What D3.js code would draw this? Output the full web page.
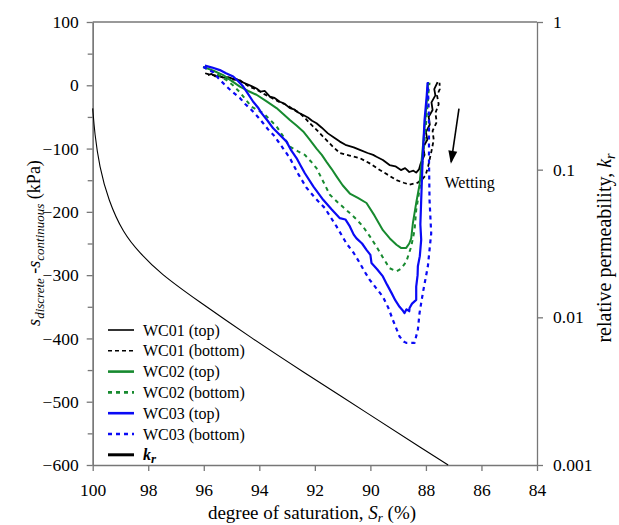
<!DOCTYPE html>
<html>
<head>
<meta charset="utf-8">
<script src="https://cdn.jsdelivr.net/npm/d3@7"></script>
<style>
  html, body { margin: 0; padding: 0; background: #fff; }
  svg { display: block; }
  text { font-family: "Liberation Serif", "Times New Roman", Times, serif; fill: #000; }
</style>
</head>
<body>
<svg id="chart" width="619" height="525"></svg>
<script>
// Degree of saturation Sr (%) vs suction difference (kPa), one array per sensor
const wc01Top = [
  [95.85,16],[95.72,18],[95.58,14],[95.45,15],[95.3,12],[95.12,13],[94.95,10],[94.82,10],
  [94.62,5],[94.45,2],[94.3,-1],[94.1,-5],[93.95,-10],[93.8,-9],[93.62,-18],[93.45,-20],
  [93.26,-26],[93.1,-29],[92.9,-36],[92.75,-38],[92.6,-43],[92.42,-47],[92.25,-51],[92.1,-56],
  [91.94,-60],[91.75,-67],[91.53,-76],[91.3,-83],[91.1,-89],[90.9,-94],[90.6,-98],[90.38,-102],
  [90.1,-107],[89.9,-110],[89.78,-113],[89.55,-118],[89.31,-126],[89.1,-128],[88.9,-134],
  [88.75,-131],[88.6,-137],[88.45,-135],[88.35,-138],[88.25,-133],[88.2,-125],[88.15,-120],
  [88.05,-110],[88.1,-98],[87.95,-86],[88.0,-74],[87.86,-62],[87.9,-50],[87.76,-39],
  [87.8,-27],[87.66,-16],[87.7,-6],[87.58,5]
];
const wc01Bottom = [
  [95.95,19],[95.8,17],[95.62,16],[95.42,14],[95.2,11],[94.95,9],[94.7,8],[94.4,-1],
  [94.1,-7],[93.82,-14],[93.55,-20],[93.3,-26],[93.02,-31],[92.78,-38],[92.54,-44],
  [92.35,-52],[92.18,-60],[91.9,-72],[91.64,-84],[91.35,-97],[91.1,-107],[90.75,-111],
  [90.38,-115],[90.0,-124],[89.66,-134],[89.35,-142],[89.06,-150],[88.8,-154],[88.59,-157],
  [88.42,-155],[88.3,-154],[88.12,-148],[88.01,-142],[87.92,-128],[87.87,-118],[87.8,-104],
  [87.72,-86],[87.76,-72],[87.61,-58],[87.66,-44],[87.54,-30],[87.6,-16],[87.5,-6],[87.51,4]
];
const wc02Top = [
  [96.02,29],[95.65,23],[95.3,16],[95.0,7],[94.7,-2],[94.4,-9],[94.1,-15],[93.75,-25],
  [93.38,-36],[93.15,-45],[92.9,-55],[92.65,-64],[92.42,-73],[92.2,-85],[91.94,-100],
  [91.75,-110],[91.58,-121],[91.4,-132],[91.22,-144],[91.0,-158],[90.74,-171],[90.45,-178],
  [90.14,-186],[89.85,-206],[89.55,-229],[89.3,-242],[89.06,-252],[88.9,-257],[88.71,-257],
  [88.6,-250],[88.53,-242],[88.47,-218],[88.41,-202],[88.35,-186],[88.23,-157],[88.12,-102],
  [88.01,-47],[87.96,-20],[87.93,-2],[87.92,5]
];
const wc02Bottom = [
  [96.02,29],[95.8,24],[95.6,21],[95.4,14],[95.18,8],[94.95,0],[94.7,-11],[94.5,-22],
  [94.28,-34],[93.86,-44],[93.6,-55],[93.38,-65],[93.15,-80],[92.9,-97],[92.62,-104],
  [92.36,-110],[92.15,-120],[91.94,-131],[91.7,-152],[91.46,-173],[91.1,-188],[90.74,-202],
  [90.5,-212],[90.27,-223],[90.0,-240],[89.78,-255],[89.55,-272],[89.31,-289],[89.06,-294],
  [88.9,-290],[88.71,-279],[88.53,-255],[88.41,-229],[88.35,-197],[88.23,-165],[88.08,-102],
  [87.97,-47],[87.9,-8],[87.87,4]
];
const wc03Top = [
  [95.96,31],[95.7,28],[95.42,24],[95.2,19],[94.94,14],[94.75,6],[94.58,-2],[94.4,-14],
  [94.22,-26],[94.05,-35],[93.92,-44],[93.7,-56],[93.5,-68],[93.25,-79],[93.02,-89],
  [92.85,-103],[92.66,-115],[92.5,-128],[92.36,-139],[92.05,-160],[91.7,-181],[91.4,-196],
  [91.1,-210],[90.9,-212],[90.74,-223],[90.6,-236],[90.5,-242],[90.3,-250],[90.14,-260],
  [90.0,-268],[89.96,-281],[89.75,-291],[89.55,-302],[89.4,-315],[89.24,-328],[89.1,-340],
  [88.95,-350],[88.85,-355],[88.77,-360],[88.7,-354],[88.6,-357],[88.59,-352],[88.5,-345],
  [88.35,-339],[88.35,-318],[88.3,-300],[88.29,-286],[88.22,-270],[88.17,-244],[88.2,-220],
  [88.17,-181],[88.12,-118],[88.05,-55],[87.97,-16],[87.94,4]
];
const wc03Bottom = [
  [96.02,29],[95.85,25],[95.67,21],[95.45,10],[95.18,-2],[94.95,-11],[94.7,-20],[94.5,-30],
  [94.28,-39],[94.05,-50],[93.86,-60],[93.68,-70],[93.5,-78],[93.3,-90],[93.14,-100],
  [92.9,-115],[92.6,-140],[92.3,-162],[91.95,-180],[91.64,-194],[91.22,-223],[90.86,-250],
  [90.6,-265],[90.38,-281],[90.2,-295],[90.03,-307],[89.8,-320],[89.55,-334],[89.35,-352],
  [89.19,-371],[89.05,-386],[88.95,-397],[88.8,-405],[88.71,-407],[88.41,-407],[88.29,-386],
  [88.23,-360],[88.11,-328],[87.93,-286],[87.81,-234],[87.87,-181],[87.89,-118],[87.89,-50],
  [87.92,-16],[87.93,5]
];
// Relative permeability kr vs degree of saturation (right axis)
const krCurve = [
  [100,0.26],[99.93,0.176],[99.76,0.105],[99.44,0.0623],[98.9,0.0371],[98.3,0.0272],
  [97.58,0.0199],[96.26,0.0131],[94.23,0.00714],[92.54,0.00441],
  [90,0.00218],[88.05,0.00126],[87.2,0.001]
];

// Axis ticks
const xTicks = [100,98,96,94,92,90,88,86,84];
const yTicks = [100,0,-100,-200,-300,-400,-500,-600];
const yMinorTicks = [50,-50,-150,-250,-350,-450,-550];
const krTicks = [1,0.1,0.01,0.001];
const krTickLabels = ["1","0.1","0.01","0.001"];

const series = [
  { name: "WC01 (top)",    data: wc01Top,    color: "#000000", width: 1.8, dash: null,  legendWidth: 1.6 },
  { name: "WC01 (bottom)", data: wc01Bottom, color: "#000000", width: 1.8, dash: "4,3", legendWidth: 1.6 },
  { name: "WC02 (top)",    data: wc02Top,    color: "#178a2f", width: 2,   dash: null,  legendWidth: 2.6 },
  { name: "WC02 (bottom)", data: wc02Bottom, color: "#178a2f", width: 2,   dash: "4,4", legendWidth: 2.6 },
  { name: "WC03 (top)",    data: wc03Top,    color: "#0a0af5", width: 2.2, dash: null,  legendWidth: 2.6 },
  { name: "WC03 (bottom)", data: wc03Bottom, color: "#0a0af5", width: 2.2, dash: "4,4", legendWidth: 2.6 }
];

const svg = d3.select("#chart");
const plotLeft = 92.7, plotRight = 537, plotTop = 22, plotBottom = 465;
const axisColor = "#777";
const tickFont = 17.5;
const serifFont = '"Liberation Serif", "Times New Roman", Times, serif';

const x = d3.scaleLinear().domain([100, 84]).range([plotLeft, plotRight]);
const y = d3.scaleLinear().domain([-600, 100]).range([plotBottom, plotTop]);
const yKr = d3.scaleLog().domain([0.001, 1]).range([plotBottom, plotTop]);

function styleAxis(g) {
  g.attr("font-family", serifFont);
  g.select(".domain").attr("stroke", axisColor).attr("stroke-width", 1.3);
  g.selectAll(".tick line").attr("stroke", axisColor).attr("stroke-width", 1.3);
  g.selectAll(".tick text").attr("font-size", tickFont).attr("fill", "#000")
    .style("font-family", serifFont);
}

// top frame
svg.append("line").attr("x1", plotLeft).attr("x2", plotRight).attr("y1", plotTop).attr("y2", plotTop)
  .attr("stroke", axisColor).attr("stroke-width", 1.3);

// left axis with minor ticks
svg.append("g").attr("transform", `translate(${plotLeft},0)`)
  .call(d3.axisLeft(y).tickValues(yMinorTicks).tickSize(5).tickSizeOuter(0).tickFormat(""))
  .call(styleAxis);
svg.append("g").attr("transform", `translate(${plotLeft},0)`)
  .call(d3.axisLeft(y).tickValues(yTicks).tickSize(6).tickSizeOuter(0).tickPadding(8).tickFormat(d3.format("d")))
  .call(styleAxis);

// bottom axis
const gx = svg.append("g").attr("transform", `translate(0,${plotBottom})`)
  .call(d3.axisBottom(x).tickValues(xTicks).tickSize(6).tickSizeOuter(0).tickFormat(d3.format("d")))
  .call(styleAxis);
gx.selectAll(".tick text").attr("y", 31).attr("dy", 0);

// right axis (relative permeability, log)
svg.append("g").attr("transform", `translate(${plotRight},0)`)
  .call(d3.axisRight(yKr).tickValues(krTicks).tickSize(6).tickSizeOuter(0).tickPadding(10)
    .tickFormat((d, i) => krTickLabels[i]))
  .call(styleAxis);

// data curves
const line = d3.line().x(d => x(d[0])).y(d => y(d[1]));
const plot = svg.append("g");
series.forEach(s => {
  plot.append("path").datum(s.data).attr("d", line)
    .attr("fill", "none").attr("stroke", s.color).attr("stroke-width", s.width)
    .attr("stroke-linejoin", "round")
    .attr("stroke-dasharray", s.dash);
});

// kr curve on the log axis
const krLine = d3.line().x(d => x(d[0])).y(d => yKr(d[1])).curve(d3.curveBasis);
plot.append("path").datum(krCurve).attr("d", krLine)
  .attr("fill", "none").attr("stroke", "#000").attr("stroke-width", 1.1);

// wetting arrow
const a0 = [x(86.81), y(-37)], a1 = [x(87.09), y(-121)];
svg.append("line").attr("x1", a0[0]).attr("y1", a0[1]).attr("x2", a1[0]).attr("y2", a1[1])
  .attr("stroke", "#000").attr("stroke-width", 1.6);
{
  const dx = a1[0] - a0[0], dy = a1[1] - a0[1], L = Math.hypot(dx, dy);
  const ux = dx / L, uy = dy / L, px = -uy, py = ux;
  const hl = 11, hw = 4.5;
  const bx = a1[0] - ux * hl, by = a1[1] - uy * hl;
  svg.append("path")
    .attr("d", `M${a1[0]+ux*2},${a1[1]+uy*2}L${bx+px*hw},${by+py*hw}L${bx-px*hw},${by-py*hw}Z`)
    .attr("fill", "#000");
}
svg.append("text").attr("x", x(87.33)).attr("y", y(-162)).attr("font-size", 16).text("Wetting");

// legend
const legendRows = series.map(s => ({ label: s.name, color: s.color, width: s.legendWidth, dash: s.dash }));
legendRows.push({ label: null, color: "#000", width: 3, dash: null });
const lg = svg.append("g");
legendRows.forEach((r, i) => {
  const ry = 330 + i * 20.8;
  lg.append("line").attr("x1", 108).attr("x2", 134).attr("y1", ry).attr("y2", ry)
    .attr("stroke", r.color).attr("stroke-width", r.width).attr("stroke-dasharray", r.dash);
  const t = lg.append("text").attr("x", 143).attr("y", ry).attr("dy", "0.35em").attr("font-size", 16);
  if (r.label) {
    t.text(r.label);
  } else {
    t.append("tspan").attr("font-style", "italic").attr("font-weight", "bold").text("k");
    t.append("tspan").attr("font-style", "italic").attr("font-weight", "bold")
      .attr("font-size", 13).attr("dy", 3).text("r");
  }
});

// y label (left)
const yl = svg.append("text").attr("transform", "translate(40,243) rotate(-90)")
  .attr("text-anchor", "middle").attr("font-size", 18);
yl.append("tspan").attr("font-style", "italic").text("s");
yl.append("tspan").attr("font-style", "italic").attr("font-size", 13).attr("dy", 4).text("discrete");
yl.append("tspan").attr("dy", -4).text(" -");
yl.append("tspan").attr("font-style", "italic").text("s");
yl.append("tspan").attr("font-style", "italic").attr("font-size", 13).attr("dy", 4).text("continuous");
yl.append("tspan").attr("dy", -4).text(" (kPa)");

// right label
const rl = svg.append("text").attr("transform", "translate(611,248) rotate(-90)")
  .attr("text-anchor", "middle").attr("font-size", 20);
rl.append("tspan").text("relative permeability, ");
rl.append("tspan").attr("font-style", "italic").text("k");
rl.append("tspan").attr("font-style", "italic").attr("font-size", 14).attr("dy", 4).text("r");

// x label
const xl = svg.append("text").attr("x", 312).attr("y", 519)
  .attr("text-anchor", "middle").attr("font-size", 19);
xl.append("tspan").text("degree of saturation, ");
xl.append("tspan").attr("font-style", "italic").text("S");
xl.append("tspan").attr("font-style", "italic").attr("font-size", 13).attr("dy", 3).text("r");
xl.append("tspan").attr("dy", -3).text(" (%)");
</script>
</body>
</html>
